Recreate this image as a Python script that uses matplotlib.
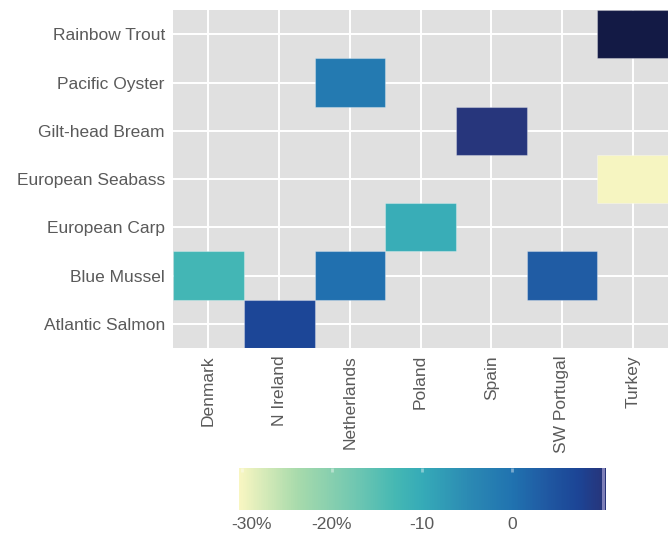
import numpy as np
import matplotlib
matplotlib.use('Agg')
import matplotlib.pyplot as plt
from matplotlib.colors import LinearSegmentedColormap, Normalize
from matplotlib.patches import Rectangle
from matplotlib.transforms import ScaledTranslation

plt.rcParams['font.family'] = ['Liberation Sans', 'DejaVu Sans']

# categories (bottom to top for rows)
species = ['Atlantic Salmon', 'Blue Mussel', 'European Carp', 'European Seabass',
           'Gilt-head Bream', 'Pacific Oyster', 'Rainbow Trout']
countries = ['Denmark', 'N Ireland', 'Netherlands', 'Poland', 'Spain',
             'SW Portugal', 'Turkey']

# observed tiles
tile_species = ['Rainbow Trout', 'Pacific Oyster', 'Gilt-head Bream', 'European Seabass',
                'European Carp', 'Blue Mussel', 'Blue Mussel', 'Blue Mussel',
                'Atlantic Salmon']
tile_country = ['Turkey', 'Netherlands', 'Spain', 'Turkey',
                'Poland', 'Denmark', 'Netherlands', 'SW Portugal',
                'N Ireland']
tile_value = [16, -1.5, 10, -30, -10.5, -12.5, 0.3, 3.5, 7]

# colour bar
cbar_ticks = [-30, -20, -10, 0]
cbar_labels = ['-30%', '-20%', '-10', '0']
cbar_min, cbar_max = -30.3, 10.3

# colour scale sampled from the reference bar
anchors = [(-30.3, '#f8f6c2'), (-24, '#a9dbac'), (-17, '#6cc6b2'), (-13, '#45b8b4'),
           (-10, '#36abb8'), (-5, '#2c8bb4'), (0, '#2173b0'), (4, '#2058a2'),
           (7.3, '#1c4596'), (10.3, '#283479'), (16, '#131a45')]
vmin, vmax = anchors[0][0], anchors[-1][0]
cmap = LinearSegmentedColormap.from_list(
    'scale', [((v - vmin) / (vmax - vmin), c) for v, c in anchors])
norm = Normalize(vmin=vmin, vmax=vmax)

txt = '#5a5a5a'
fig = plt.figure(figsize=(6.71, 5.35), dpi=100)
ax = fig.add_axes([0.258, 0.3495, 0.7375, 0.6315])
ax.set_facecolor('#e0e0e0')
ax.set_axisbelow(True)
ax.grid(True, color='white', linewidth=1.4)

for s, c, v in zip(tile_species, tile_country, tile_value):
    xi, yi = countries.index(c), species.index(s)
    ax.add_patch(Rectangle((xi - 0.5, yi - 0.5), 1, 1, facecolor=cmap(norm(v)),
                           edgecolor=(1, 1, 1, 0.3), linewidth=0.8, zorder=2))

ax.set_xlim(-0.5, len(countries) - 0.5)
ax.set_ylim(-0.5, len(species) - 0.5)
ax.set_xticks(range(len(countries)))
ax.set_xticklabels(countries, rotation=90, fontsize=12.5, color=txt)
ax.set_yticks(range(len(species)))
ax.set_yticklabels(species, fontsize=12.5, color=txt)
ax.tick_params(length=0)
ax.tick_params(axis='x', pad=5)
ax.tick_params(axis='y', pad=6)
for sp in ax.spines.values():
    sp.set_visible(False)

# colour bar
cax = fig.add_axes([0.356, 0.0467, 0.5456, 0.0785])
grad = np.linspace(cbar_min, cbar_max, 400)[None, :]
cax.imshow(grad, aspect='auto', cmap=cmap, norm=norm,
           extent=[cbar_min, cbar_max, 0, 1])
cax.axvspan(10.0, cbar_max, color='#7f80b8', lw=0)
cax.set_xlim(cbar_min, cbar_max)
cax.set_ylim(0, 1)
cax.set_yticks([])
cax.set_xticks(cbar_ticks)
cax.set_xticklabels(cbar_labels, fontsize=12.5, color=txt)
cax.tick_params(axis='x', direction='in', bottom=False, top=True, length=3,
                width=2, color=(1, 1, 1, 0.4), labelbottom=True, pad=5)
first = cax.get_xticklabels()[0]
first.set_transform(first.get_transform() + ScaledTranslation(0.1, 0, fig.dpi_scale_trans))
for sp in cax.spines.values():
    sp.set_visible(False)

fig.savefig('out.png', dpi=100, facecolor='white')
